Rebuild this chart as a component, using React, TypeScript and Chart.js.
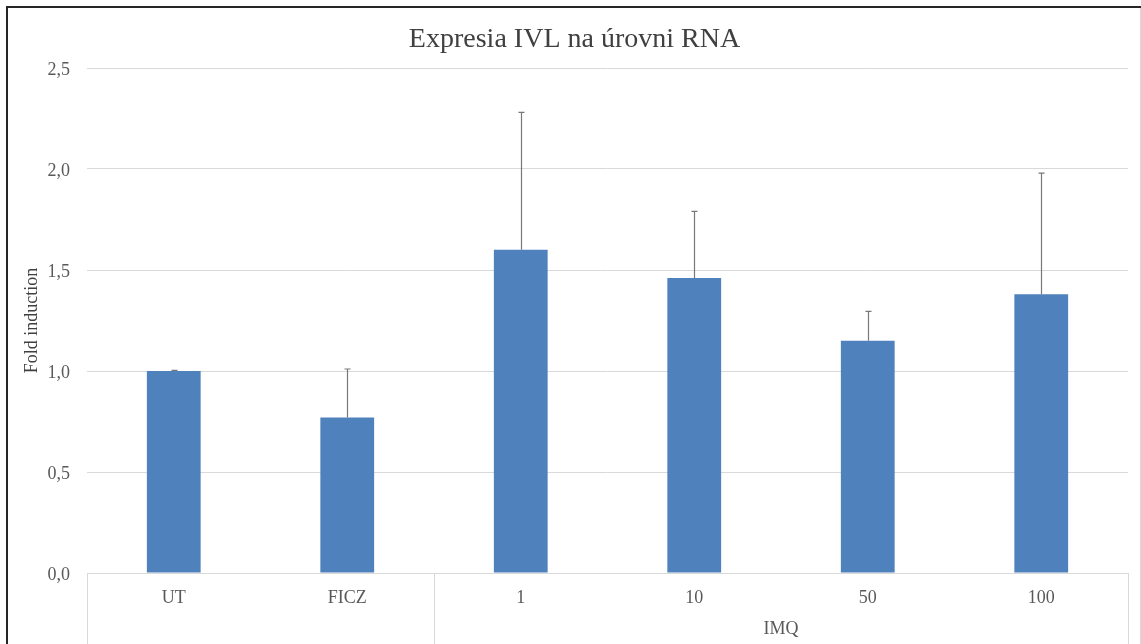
import React, { useEffect, useRef } from "react";
import { Chart, registerables } from "chart.js";

Chart.register(...registerables);

const chartTitle = "Expresia IVL na úrovni RNA";
const yAxisTitle = "Fold induction";
const categories = ["UT", "FICZ", "1", "10", "50", "100"];
const values = [1.0, 0.77, 1.6, 1.46, 1.15, 1.38];
const errors = [0.003, 0.24, 0.68, 0.33, 0.145, 0.6];
const groupLabel = "IMQ";
const groupStart = 2;
const yTicks = { min: 0, max: 2.5, step: 0.5 };

const SERIF = "'Liberation Serif', 'Times New Roman', serif";

export default function App() {
  const ref = useRef<HTMLCanvasElement | null>(null);

  useEffect(() => {
    document.documentElement.style.overflow = "hidden";
    document.body.style.overflow = "hidden";
    const canvas = ref.current;
    if (!canvas) return;

    const extras = {
      id: "extras",
      beforeDraw(chart: any) {
        const ctx = chart.ctx;
        ctx.save();
        ctx.fillStyle = "#ffffff";
        ctx.fillRect(0, 0, chart.width, chart.height);
        ctx.restore();
      },
      afterDatasetsDraw(chart: any) {
        const ctx = chart.ctx;
        const meta = chart.getDatasetMeta(0);
        const ys = chart.scales.y;
        ctx.save();
        ctx.strokeStyle = "#787878";
        ctx.lineWidth = 1.2;
        meta.data.forEach((bar: any, i: number) => {
          const x = Math.round(bar.x) + 0.5;
          const y0 = ys.getPixelForValue(values[i]);
          const y1 = ys.getPixelForValue(values[i] + errors[i]);
          ctx.beginPath();
          ctx.moveTo(x, y0);
          ctx.lineTo(x, y1);
          ctx.moveTo(x - 3, y1);
          ctx.lineTo(x + 3, y1);
          ctx.stroke();
        });
        ctx.restore();
      },
      afterDraw(chart: any) {
        const ctx = chart.ctx;
        const area = chart.chartArea;
        const xs = chart.scales.x;
        ctx.save();
        ctx.strokeStyle = "#d9d9d9";
        ctx.lineWidth = 1;
        const sepXs = [
          area.left,
          (xs.getPixelForValue(groupStart - 1) + xs.getPixelForValue(groupStart)) / 2,
          area.right,
        ];
        sepXs.forEach((sx) => {
          const px = Math.round(sx) + 0.5;
          ctx.beginPath();
          ctx.moveTo(px, area.bottom);
          ctx.lineTo(px, chart.height);
          ctx.stroke();
        });
        const gx = (sepXs[1] + sepXs[2]) / 2;
        ctx.fillStyle = "#595959";
        ctx.font = `18px ${SERIF}`;
        ctx.textAlign = "center";
        ctx.textBaseline = "middle";
        ctx.fillText(groupLabel, gx, 629);
        ctx.strokeStyle = "#262626";
        ctx.lineWidth = 2;
        ctx.beginPath();
        ctx.moveTo(7, chart.height);
        ctx.lineTo(7, 7);
        ctx.lineTo(chart.width, 7);
        ctx.stroke();
        ctx.strokeStyle = "#d9d9d9";
        ctx.lineWidth = 1;
        ctx.beginPath();
        ctx.moveTo(1140.5, 8);
        ctx.lineTo(1140.5, chart.height);
        ctx.stroke();
        ctx.restore();
      },
    };

    const chart = new Chart(canvas, {
      type: "bar",
      data: {
        labels: categories,
        datasets: [
          {
            data: values,
            backgroundColor: "#4F81BD",
            borderWidth: 0,
            barPercentage: 0.31,
            categoryPercentage: 1,
          },
        ],
      },
      options: {
        responsive: false,
        animation: false,
        devicePixelRatio: 1,
        layout: { padding: { left: 21, right: 13, top: 0, bottom: 0 } },
        plugins: {
          legend: { display: false },
          tooltip: { enabled: false },
          title: {
            display: true,
            text: chartTitle,
            color: "#404040",
            font: { family: SERIF, size: 28, weight: "normal" },
            padding: { top: 23, bottom: 11.4 },
          },
        },
        scales: {
          x: {
            grid: { display: false, drawTicks: false },
            border: { display: true, color: "#d9d9d9", width: 1 },
            ticks: {
              color: "#595959",
              font: { family: SERIF, size: 18 },
              padding: 14,
              maxRotation: 0,
              autoSkip: false,
            },
            afterFit: (scale: any) => {
              scale.height = 71;
            },
          },
          y: {
            min: yTicks.min,
            max: yTicks.max,
            grid: { color: "#d9d9d9", drawTicks: false, lineWidth: 1 },
            border: { display: false },
            ticks: {
              stepSize: yTicks.step,
              color: "#595959",
              font: { family: SERIF, size: 18 },
              padding: 17,
              labelOffset: 2,
              callback: (v: any) => Number(v).toFixed(1).replace(".", ","),
            },
            title: {
              display: true,
              text: yAxisTitle,
              color: "#404040",
              font: { family: SERIF, size: 18 },
              padding: { top: 0, bottom: 0 },
            },
            afterFit: (scale: any) => {
              scale.width = 66;
            },
          },
        },
      },
      plugins: [extras],
    } as any);

    return () => chart.destroy();
  }, []);

  return (
    <canvas
      ref={ref}
      width={1141}
      height={644}
      style={{ position: "fixed", left: 0, top: 0, width: 1141, height: 644 }}
    />
  );
}
